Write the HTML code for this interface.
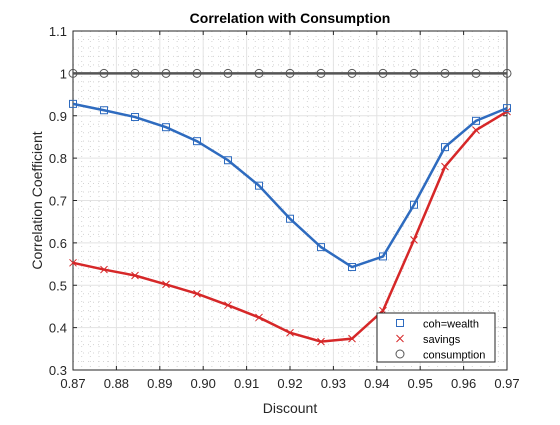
<!DOCTYPE html>
<html><head><meta charset="utf-8"><style>
body{margin:0;background:#fff;}
svg text{font-family:"Liberation Sans",sans-serif;}
</style></head><body>
<svg id="chart" width="560" height="420" xmlns="http://www.w3.org/2000/svg">
<rect width="560" height="420" fill="#fff"/>
</svg>
<script>
const discount=[0.87,0.87714,0.88429,0.89143,0.89857,0.90571,0.91286,0.92,0.92714,0.93429,0.94143,0.94857,0.95571,0.96286,0.97];
const cohWealth=[0.928,0.913,0.897,0.873,0.840,0.795,0.735,0.657,0.590,0.543,0.568,0.690,0.826,0.888,0.918];
const savings=[0.553,0.537,0.523,0.502,0.480,0.453,0.424,0.388,0.367,0.374,0.440,0.607,0.780,0.866,0.910];
const consumption=[1,1,1,1,1,1,1,1,1,1,1,1,1,1,1];
const xTicks=[0.87,0.88,0.89,0.9,0.91,0.92,0.93,0.94,0.95,0.96,0.97];
const yTicks=[0.3,0.4,0.5,0.6,0.7,0.8,0.9,1,1.1];
const L=73,R=507,T=31,B=370;
const sx=v=>L+(v-0.87)/(0.1)*(R-L);
const sy=v=>B-(v-0.3)/(0.8)*(B-T);
const svg=document.getElementById('chart');
const NS='http://www.w3.org/2000/svg';
function mk(tag,attrs,parent){const e=document.createElementNS(NS,tag);for(const k in attrs)e.setAttribute(k,attrs[k]);(parent||svg).appendChild(e);return e;}
for(let i=0;i<50;i++){const x=sx(0.87+i*0.002);if(i%5===0)continue;
const g=mk('line',{x1:x,x2:x,y1:T,y2:B,stroke:'#d4d4d4','stroke-width':1,'stroke-dasharray':'1,4'});

}
for(let i=0;i<40;i++){const y=sy(0.3+i*0.02);if(i%5===0)continue;
const g=mk('line',{x1:L,x2:R,y1:y,y2:y,stroke:'#d4d4d4','stroke-width':1,'stroke-dasharray':'1,4'});

}
xTicks.forEach(v=>{const x=sx(v);
const g=mk('line',{x1:x,x2:x,y1:T,y2:B,stroke:'#e3e3e3','stroke-width':1});


mk('line',{x1:x,x2:x,y1:B,y2:B-4,stroke:'#262626'});
mk('line',{x1:x,x2:x,y1:T,y2:T+4,stroke:'#262626'});
const t=mk('text',{x:x,y:B+18,'text-anchor':'middle','font-size':13,fill:'#262626'});t.textContent=v.toFixed(2);

});
yTicks.forEach(v=>{const y=sy(v);
const g=mk('line',{x1:L,x2:R,y1:y,y2:y,stroke:'#e3e3e3','stroke-width':1});


mk('line',{x1:L,x2:L+4,y1:y,y2:y,stroke:'#262626'});
mk('line',{x1:R,x2:R-4,y1:y,y2:y,stroke:'#262626'});
const t=mk('text',{x:L-6,y:y+5,'text-anchor':'end','font-size':13,fill:'#262626'});t.textContent=String(v);

});
const box=mk('rect',{x:L,y:T,width:R-L,height:B-T,fill:'none',stroke:'#262626','stroke-width':1});


function series(vals,color,marker,name){
const pts=vals.map((v,i)=>sx(discount[i])+','+sy(v)).join(' ');
const pl=mk('polyline',{points:pts,fill:'none',stroke:color,'stroke-width':2.5});


vals.forEach((v,i)=>{const x=sx(discount[i]),y=sy(v);drawMarker(x,y,color,marker,name);});}
function drawMarker(x,y,color,marker,name){let m;
if(marker==='s')m=mk('rect',{x:x-3.5,y:y-3.5,width:7,height:7,fill:'none',stroke:color,'stroke-width':1});
else if(marker==='x')m=mk('path',{d:`M${x-3.5} ${y-3.5}L${x+3.5} ${y+3.5}M${x-3.5} ${y+3.5}L${x+3.5} ${y-3.5}`,stroke:color,'stroke-width':1});
else m=mk('circle',{cx:x,cy:y,r:4,fill:'none',stroke:color,'stroke-width':1});

}
series(consumption,'#555555','o','consumption');
series(savings,'#d62728','x','savings');
series(cohWealth,'#2e6bbf','s','coh-wealth');
const tt=mk('text',{x:(L+R)/2,y:23,'text-anchor':'middle','font-size':14,'font-weight':'bold',fill:'#000'});tt.textContent='Correlation with Consumption';


const xl=mk('text',{x:(L+R)/2,y:413,'text-anchor':'middle','font-size':14,fill:'#262626'});xl.textContent='Discount';


const yl=mk('text',{x:0,y:0,'text-anchor':'middle','font-size':14,fill:'#262626',transform:`translate(42,${(T+B)/2}) rotate(-90)`});yl.textContent='Correlation Coefficient';


const lg=mk('g',{});


mk('rect',{x:377,y:313,width:118,height:49,fill:'#fff',stroke:'#262626','stroke-width':1},lg);
[['coh=wealth','#2e6bbf','s'],['savings','#d62728','x'],['consumption','#555555','o']].forEach((e,i)=>{
const y=323+i*15.5;drawMarker(400,y,e[1],e[2],'legend-'+e[0].replace('=','-'));
const t=mk('text',{x:423,y:y+4.5,'font-size':11,fill:'#000'});t.textContent=e[0];

});
</script>
</body></html>
